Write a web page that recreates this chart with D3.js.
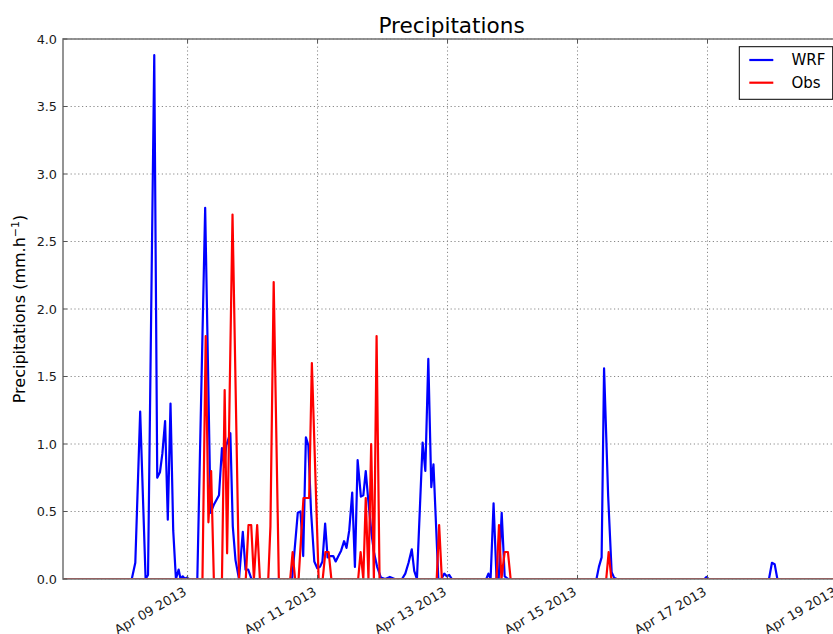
<!DOCTYPE html>
<html>
<head>
<meta charset="utf-8">
<script src="https://cdn.jsdelivr.net/npm/d3@7"></script>
<style>
  html, body { margin: 0; padding: 0; background: #fff; }
  svg { display: block; font-family: "DejaVu Sans", sans-serif; }
</style>
</head>
<body>
<svg id="chart" width="833" height="634"></svg>
<script>
// ---- data (hours relative to 2013-04-09 00:00 UTC, values in mm/h) ----
const wrfHours = [-46,-20.6,-19.3,-17.5,-15.5,-14.6,-12.3,-11.2,-10.2,-9.3,-8.3,-7.3,-6.3,-5.3,-4.3,-3.3,-2.6,-1.8,-1.0,-0.3,0.5,
  3.6,6.5,8.5,9.7,11.6,12.7,13.5,14.3,15.8,16.7,17.7,19.0,20.4,21.4,22.4,23.6,
  38.6,40.7,41.7,42.7,43.7,44.6,45.6,46.8,47.9,48.9,49.8,50.8,51.7,52.7,53.8,54.7,55.7,56.7,57.8,58.7,59.7,60.8,61.8,62.8,64.0,64.9,65.8,66.7,67.9,68.9,70.0,71.4,73.0,74.7,76.5,
  79.2,80.4,81.6,82.8,83.7,84.7,86.8,87.8,88.9,90.0,90.8,92.6,93.7,94.8,95.7,96.6,97.6,
  110.3,111.1,111.9,113.0,114.1,114.9,116.0,117.1,118.4,
  151.0,151.9,152.9,153.8,155.3,156.6,157.5,158.5,190.9,191.6,192.5,214.7,215.8,216.8,217.8,241];
const wrfValues = [0,0,0.12,1.24,0,0.03,3.88,0.75,0.79,0.93,1.17,0.44,1.30,0.36,0,0.07,0,0.02,0,0.01,0,
  0,2.75,0.49,0.55,0.62,0.97,0.83,0.99,1.08,0.39,0.14,0,0.35,0.07,0.07,0,
  0,0.49,0.50,0.17,1.05,0.99,0.50,0.13,0.08,0.09,0.13,0.41,0.16,0.17,0.17,0.13,0.17,0.21,0.28,0.23,0.36,0.64,0.09,0.88,0.61,0.62,0.80,0.59,0.34,0.19,0.09,0.01,0,0.015,0,
  0,0.04,0.12,0.22,0.06,0,1.01,0.80,1.63,0.68,0.85,0,0,0.04,0.02,0.03,0,
  0,0.04,0,0.56,0,0,0.49,0.02,0,
  0,0.09,0.16,1.56,0.62,0.05,0.01,0,0,0.015,0,0,0.12,0.11,0,0];

const obsHours = [-46,5.5,6.7,7.7,8.7,9.7,12.7,13.7,14.6,16.6,19.0,21.5,22.5,23.5,24.5,25.7,26.7,
  29.8,30.6,31.8,33.7,37.9,38.8,39.7,41.0,42.8,44.9,45.9,48.4,49.9,50.9,52.1,53.1,
  63.0,63.9,64.9,65.8,66.8,67.8,68.8,69.8,70.9,92.0,92.9,93.9,
  114.1,115.0,115.9,117.1,118.3,119.3,154.6,155.5,156.5,241];
const obsValues = [0,0,1.80,0.42,0.80,0,0,1.40,0.19,2.70,0,0,0.40,0.40,0,0.40,0,
  0,0.39,2.20,0,0,0.20,0,0,0.60,0.60,1.60,0,0,0.20,0.20,0,
  0,0.20,0,0.60,0,1.00,0,1.80,0,0,0.40,0,
  0,0.40,0,0.20,0.20,0,0,0.20,0,0];

const yTicks = [0,0.5,1.0,1.5,2.0,2.5,3.0,3.5,4.0];
const xTickDays = ["2013-04-09","2013-04-11","2013-04-13","2013-04-15","2013-04-17","2013-04-19"];
const seriesNames = ["WRF","Obs"];
const seriesColors = ["#0000ff","#ff0000"];

// ---- layout ----
const base = Date.UTC(2013,3,9,0,0,0);
const HR = 3600*1000;
const pLeft = 63, pTop = 39, pBottom = 579;
const pxPerHour = 2.708;
const pRight = pLeft + (241 - (-46)) * pxPerHour;

const svg = d3.select("#chart");
const x = d3.scaleUtc()
  .domain([new Date(base - 46*HR), new Date(base + 241*HR)])
  .range([pLeft, pRight]);
const y = d3.scaleLinear().domain([0,4]).range([pBottom, pTop]);

svg.append("defs").append("clipPath").attr("id","clip")
  .append("rect").attr("x",pLeft).attr("y",pTop).attr("width",pRight-pLeft).attr("height",pBottom-pTop);

// grid
const xTickDates = xTickDays.map(s => new Date(s + "T00:00:00Z"));
const grid = svg.append("g");
grid.selectAll("line.gx").data(xTickDates).enter().append("line")
  .attr("x1", d => x(d)).attr("x2", d => x(d)).attr("y1", pTop).attr("y2", pBottom)
  .attr("stroke","#888").attr("stroke-width",1).attr("stroke-dasharray","1.2,2.6");
grid.selectAll("line.gy").data(yTicks).enter().append("line")
  .attr("x1", pLeft).attr("x2", pRight).attr("y1", d => y(d)).attr("y2", d => y(d))
  .attr("stroke","#888").attr("stroke-width",1).attr("stroke-dasharray","1.2,2.6");

// lines
const toPts = (hs, vs) => hs.map((h,i) => ({t: new Date(base + h*HR), v: vs[i]}));
const line = d3.line().x(d => x(d.t)).y(d => y(d.v));
const lg = svg.append("g").attr("clip-path","url(#clip)");
lg.append("path").datum(toPts(wrfHours, wrfValues))
  .attr("d", line).attr("fill","none").attr("stroke",seriesColors[0]).attr("stroke-width",2.2).attr("stroke-linejoin","round");
lg.append("path").datum(toPts(obsHours, obsValues))
  .attr("d", line).attr("fill","none").attr("stroke",seriesColors[1]).attr("stroke-width",2.2).attr("stroke-linejoin","round");

// axes frame
svg.append("rect").attr("x",pLeft).attr("y",pTop).attr("width",pRight-pLeft).attr("height",pBottom-pTop)
  .attr("fill","none").attr("stroke","#7a7a7a").attr("stroke-width",1.6);

// ticks (inward)
const tk = svg.append("g").attr("stroke","#555").attr("stroke-width",1);
yTicks.forEach(v => {
  tk.append("line").attr("x1",pLeft).attr("x2",pLeft+4).attr("y1",y(v)).attr("y2",y(v));
  tk.append("line").attr("x1",pRight-4).attr("x2",pRight).attr("y1",y(v)).attr("y2",y(v));
});
xTickDates.forEach(d => {
  tk.append("line").attr("x1",x(d)).attr("x2",x(d)).attr("y1",pBottom).attr("y2",pBottom-4);
  tk.append("line").attr("x1",x(d)).attr("x2",x(d)).attr("y1",pTop).attr("y2",pTop+4);
});

// y axis labels via d3 axis
const yAxis = d3.axisLeft(y).tickValues(yTicks).tickFormat(d3.format(".1f")).tickSize(0).tickPadding(6);
const yg = svg.append("g").attr("transform",`translate(${pLeft},0)`).call(yAxis);
yg.select(".domain").remove();
yg.selectAll("text").attr("font-size","12.8px").attr("fill","#1a1a1a").attr("font-family","DejaVu Sans");

// x axis labels (rotated)
const fmt = d3.utcFormat("%b %d %Y");
svg.append("g").selectAll("text").data(xTickDates).enter().append("text")
  .attr("transform", d => `translate(${x(d)-5},${pBottom+7}) rotate(-30)`)
  .attr("text-anchor","end").attr("dy","0.75em")
  .attr("font-size","13px").attr("fill","#1a1a1a")
  .text(d => fmt(d));

// title
svg.append("text").attr("x",(pLeft+pRight)/2).attr("y",33).attr("text-anchor","middle")
  .attr("font-size","21.6px").attr("fill","#000").text("Precipitations");

// y label
const yl = svg.append("text").attr("transform",`translate(25,${(pTop+pBottom)/2}) rotate(-90)`)
  .attr("text-anchor","middle").attr("font-size","16px").attr("fill","#000");
yl.append("tspan").text("Precipitations (mm.h");
yl.append("tspan").attr("dy","-6").attr("font-size","11px").text("\u22121");
yl.append("tspan").attr("dy","6").text(")");

// legend
const legX = 739.3, legY = 46.7, legW = pRight - 7.5 - 739.3, legH = 52.6;
const leg = svg.append("g");
leg.append("rect").attr("x",legX).attr("y",legY).attr("width",legW).attr("height",legH)
  .attr("fill","#fff").attr("stroke","#000").attr("stroke-width",1);
seriesNames.forEach((n,i) => {
  const cy = 60 + i*22.7;
  leg.append("line").attr("x1",749.3).attr("x2",773.3).attr("y1",cy).attr("y2",cy)
    .attr("stroke",seriesColors[i]).attr("stroke-width",2.2);
  leg.append("text").attr("x",791.5).attr("y",cy).attr("dy","0.36em")
    .attr("font-size","15px").attr("fill","#000").text(n);
});
</script>
</body>
</html>
